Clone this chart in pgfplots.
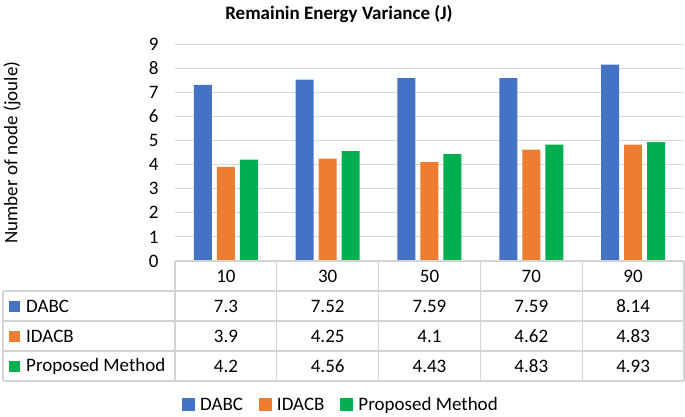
\documentclass[border=0pt]{standalone}
\usepackage{fontspec}
\setmainfont{Carlito}
\usepackage{pgfplots}
\usepackage{pgfplotstable}
\pgfplotsset{compat=1.18}
\definecolor{cblue}{HTML}{4472C4}
\definecolor{corange}{HTML}{ED7D31}
\definecolor{cgreen}{HTML}{00B050}
\definecolor{gridgray}{HTML}{D9D9D9}
\definecolor{tblgray}{HTML}{D4D4D4}

\pgfplotstableread{
node DABC IDACB Proposed
10 7.3 3.9 4.2
30 7.52 4.25 4.56
50 7.59 4.1 4.43
70 7.59 4.62 4.83
90 8.14 4.83 4.93
}\data

\begin{document}
\begin{tikzpicture}[font=\fontsize{19bp}{23bp}\selectfont]
\begin{axis}[
  scale only axis, width=509bp, height=217bp,
  xmin=0, xmax=5, ymin=0, ymax=9,
  ybar=5bp, bar width=18bp,
  axis line style={draw=none}, tick style={draw=none},
  xtick=\empty, ytick={0,...,9},
  ymajorgrids, major grid style={gridgray, line width=0.8bp},
  yticklabel style={xshift=-13bp},
  /pgf/number format/assume math mode=true,
  title={Remainin Energy Variance (J)},
  title style={at={(axis description cs:0.322,1.11)}, anchor=center,
    font=\fontsize{19bp}{23bp}\selectfont\bfseries},
  ylabel={Number of node (joule)},
  every axis y label/.style={at={(axis description cs:-0.32,0.5)}, rotate=90, anchor=center},
  legend columns=-1,
  legend style={at={(axis description cs:0.326,-0.664)}, anchor=center, draw=none,
    /tikz/every odd column/.append style={column sep=3bp},
    /tikz/every even column/.append style={column sep=14bp}},
  clip=false,
]
\addplot[fill=cblue, draw=none, legend image code/.code={\fill[cblue] (0bp,-6bp) rectangle (13bp,7bp);}]
  table[x expr=\coordindex+0.5, y=DABC]{\data};
\addplot[fill=corange, draw=none, legend image code/.code={\fill[corange] (0bp,-6bp) rectangle (13bp,7bp);}]
  table[x expr=\coordindex+0.5, y=IDACB]{\data};
\addplot[fill=cgreen, draw=none, legend image code/.code={\fill[cgreen] (0bp,-6bp) rectangle (13bp,7bp);}]
  table[x expr=\coordindex+0.5, y=Proposed]{\data};
\legend{DABC, IDACB, Proposed Method}
\end{axis}

% data table under the plot
\begin{scope}[tblgray, line width=1.2bp]
  \foreach \i in {0,...,5} \draw ({\i*101.8bp},0bp) -- ({\i*101.8bp},-120bp);
  \draw (0bp,0bp) -- (509bp,0bp);
  \foreach \r in {1,...,4} \draw (-172bp,{-30bp*\r}) -- (509bp,{-30bp*\r});
  \draw (-172bp,-30bp) -- (-172bp,-120bp);
\end{scope}
\foreach \i in {0,...,4} {
  \pgfplotstablegetelem{\i}{node}\of\data
  \node at ({(\i+0.5)*101.8bp},-15bp) {\pgfplotsretval};
}
\foreach \col/\name/\clr [count=\r] in {DABC/DABC/cblue, IDACB/IDACB/corange, Proposed/Proposed Method/cgreen} {
  \fill[\clr] (-166bp,{-15bp-30bp*\r-5.5bp}) rectangle (-155bp,{-15bp-30bp*\r+5.5bp});
  \node[anchor=west, inner sep=0pt] at (-149bp,{-15bp-30bp*\r}) {\name};
  \foreach \i in {0,...,4} {
    \pgfplotstablegetelem{\i}{\col}\of\data
    \node at ({(\i+0.5)*101.8bp},{-15bp-30bp*\r}) {\pgfplotsretval};
  }
}
\pgfresetboundingbox
\path (-175bp,-156bp) rectangle (510bp,261bp);
\end{tikzpicture}
\end{document}
